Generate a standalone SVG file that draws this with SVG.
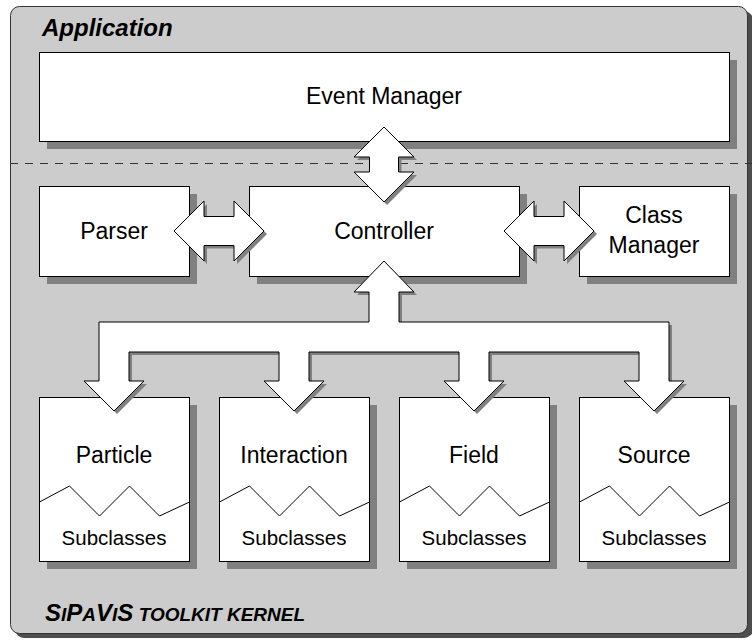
<svg xmlns="http://www.w3.org/2000/svg" width="752" height="641" viewBox="0 0 752 641">
  <defs>
    <style>
      .box { fill: #ffffff; stroke: #000000; stroke-width: 1; }
      .bshadow { fill: #808080; }
      .arrow { fill: #ffffff; stroke: #000000; stroke-width: 1; stroke-linejoin: miter; }
      .ashadow { fill: #808080; }
      .lbl { font-family: "Liberation Sans", Arial, sans-serif; font-size: 23px; fill: #000000; text-anchor: middle; }
      .sub { font-family: "Liberation Sans", Arial, sans-serif; font-size: 20.5px; fill: #000000; text-anchor: middle; }
      .title { font-family: "Liberation Sans", Arial, sans-serif; font-weight: bold; font-style: italic; fill: #000000; }
      .zig { fill: none; stroke: #000000; stroke-width: 1; }
    </style>
    <polygon id="vdouble" points="384,127 414,157 398.5,157 398.5,172 414,172 384,202 354,172 369.5,172 369.5,157 354,157"/>
    <polygon id="hdoubleL" points="174,231 204,201 204,216.5 234,216.5 234,201 264,231 234,261 234,245.5 204,245.5 204,261"/>
    <polygon id="hdoubleR" points="504,231 534,201 534,216.5 564,216.5 564,201 594,231 564,261 564,245.5 534,245.5 534,261"/>
    <polygon id="tree" points="384,261 414,292 399,292 399,322 669,322 669,381 684,381 654,411 624,381 639,381 639,352 489,352 489,381 504,381 474,411 444,381 459,381 459,352 309,352 309,381 324,381 294,411 264,381 279,381 279,352 129,352 129,381 144,381 114,411 84,381 99,381 99,322 369,322 369,292 354,292"/>
  </defs>

  <g id="panel">
    <rect x="15" y="11" width="738" height="627" rx="9" fill="#4d4d4d"/>
    <rect x="10.5" y="6.5" width="737" height="627" rx="9" fill="#cccccc" stroke="#333333" stroke-width="1"/>
    <text class="title" x="42" y="36" font-size="24">Application</text>
    <text class="title" x="45" y="621"><tspan font-size="24">S</tspan><tspan font-size="19">I</tspan><tspan font-size="24">P</tspan><tspan font-size="19">A</tspan><tspan font-size="24">V</tspan><tspan font-size="19">I</tspan><tspan font-size="24">S</tspan><tspan font-size="19"> TOOLKIT KERNEL</tspan></text>
  </g>

  <line id="boundary" x1="10" y1="163.5" x2="752" y2="163.5" stroke="#333333" stroke-width="1" stroke-dasharray="8,7"/>

  <g id="event-manager">
    <rect class="bshadow" x="47" y="60" width="690" height="89"/>
    <rect class="box" x="39.5" y="52.5" width="690" height="89"/>
    <text class="lbl" x="384" y="104">Event Manager</text>
  </g>

  <g id="parser">
    <rect class="bshadow" x="47" y="194" width="150" height="90"/>
    <rect class="box" x="39.5" y="186.5" width="150" height="90"/>
    <text class="lbl" x="114" y="239">Parser</text>
  </g>

  <g id="controller">
    <rect class="bshadow" x="257" y="194" width="270" height="90"/>
    <rect class="box" x="249.5" y="186.5" width="270" height="90"/>
    <text class="lbl" x="384" y="239">Controller</text>
  </g>

  <g id="class-manager">
    <rect class="bshadow" x="587" y="194" width="150" height="90"/>
    <rect class="box" x="579.5" y="186.5" width="150" height="90"/>
    <text class="lbl" x="654" y="223">Class</text>
    <text class="lbl" x="654" y="253">Manager</text>
  </g>

  <g id="particle">
    <rect class="bshadow" x="47" y="405" width="150" height="164"/>
    <rect class="box" x="39.5" y="397.5" width="150" height="164"/>
    <text class="lbl" x="114" y="463">Particle</text>
    <polyline class="zig" points="39.5,502 69.5,486 99.5,516 129.5,486 159.5,516 189.5,502"/>
    <text class="sub" x="114" y="545">Subclasses</text>
  </g>

  <g id="interaction">
    <rect class="bshadow" x="227" y="405" width="150" height="164"/>
    <rect class="box" x="219.5" y="397.5" width="150" height="164"/>
    <text class="lbl" x="294" y="463">Interaction</text>
    <polyline class="zig" points="219.5,502 249.5,486 279.5,516 309.5,486 339.5,516 369.5,502"/>
    <text class="sub" x="294" y="545">Subclasses</text>
  </g>

  <g id="field">
    <rect class="bshadow" x="407" y="405" width="150" height="164"/>
    <rect class="box" x="399.5" y="397.5" width="150" height="164"/>
    <text class="lbl" x="474" y="463">Field</text>
    <polyline class="zig" points="399.5,502 429.5,486 459.5,516 489.5,486 519.5,516 549.5,502"/>
    <text class="sub" x="474" y="545">Subclasses</text>
  </g>

  <g id="source">
    <rect class="bshadow" x="587" y="405" width="150" height="164"/>
    <rect class="box" x="579.5" y="397.5" width="150" height="164"/>
    <text class="lbl" x="654" y="463">Source</text>
    <polyline class="zig" points="579.5,502 609.5,486 639.5,516 669.5,486 699.5,516 729.5,502"/>
    <text class="sub" x="654" y="545">Subclasses</text>
  </g>

  <g id="connectors">
    <use href="#vdouble" class="ashadow" transform="translate(3,3)"/>
    <use href="#vdouble" class="arrow"/>
    <use href="#hdoubleL" class="ashadow" transform="translate(3,3)"/>
    <use href="#hdoubleL" class="arrow"/>
    <use href="#hdoubleR" class="ashadow" transform="translate(3,3)"/>
    <use href="#hdoubleR" class="arrow"/>
    <use href="#tree" class="ashadow" transform="translate(3,3)"/>
    <use href="#tree" class="arrow"/>
  </g>
</svg>
